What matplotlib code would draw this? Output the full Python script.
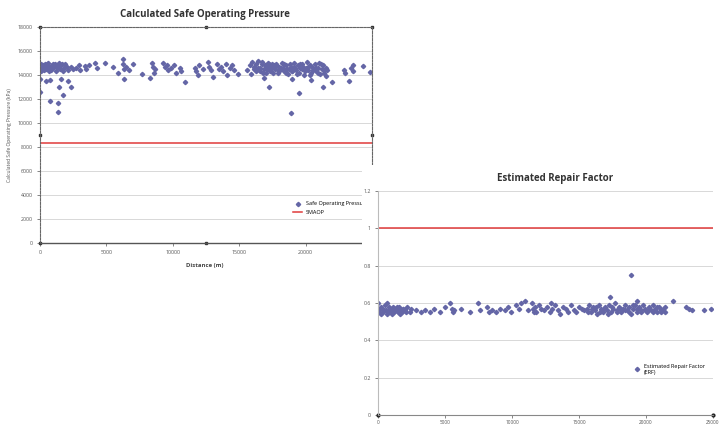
import matplotlib.pyplot as plt

plt.rcParams['font.family'] = ['Open Sans', 'DejaVu Sans']

# ---- data: calculated safe operating pressure (kPa) vs distance (m)
sop_dist_a = [0, 100, 150, 250, 300, 400, 500, 600, 700, 800, 900, 1000]
sop_kpa_a = [14700, 14900, 14500, 14800, 14400, 14900, 14600, 15000, 14700, 14400, 14800, 14600]
sop_dist_b = [1100, 1200, 1300, 1400, 1500, 1600, 1700, 1800, 1900, 2100, 2300, 2500]
sop_kpa_b = [14900, 14300, 14700, 15000, 14500, 14800, 14300, 14600, 14900, 14400, 14700, 14500]
sop_dist_c = [50, 200, 350, 450, 550, 650, 850, 950, 1250, 1450, 1650, 2000]
sop_kpa_c = [14300, 14600, 14700, 14500, 14900, 14300, 14600, 14950, 14800, 14600, 14900, 14700]
sop_dist_d = [0, 0, 450, 750, 750, 1350, 1350, 1400, 1580, 1730, 2100, 2300]
sop_kpa_d = [13700, 12600, 13500, 13600, 11800, 11650, 10900, 13000, 13650, 12350, 13500, 13000]
sop_dist_e = [2700, 2900, 3000, 3380, 3500, 3700, 4130, 4300, 4890, 5490, 5870, 6240,
              6280, 6300, 6320, 6500, 6700, 7000, 7670, 8270, 8420, 8500, 8570, 8650]
sop_kpa_e = [14600, 14800, 14400, 14750, 14500, 14800, 15000, 14600, 15000, 14650, 14150, 15300,
             14900, 14500, 13650, 14700, 14400, 14900, 14100, 13750, 15000, 14700, 14200, 14500]
sop_dist_f = [9250, 9400, 9550, 9650, 9900, 10080, 10230, 10530, 10650, 10900, 11650, 11750,
              11900, 12000, 12300, 12630, 12700, 12850, 13000, 13300, 13450, 13600, 13750, 14000,
              14060, 14300, 14450, 14600, 14900]
sop_kpa_f = [15000, 14700, 14850, 14400, 14600, 14850, 14200, 14600, 14350, 13400, 14600, 14300,
             14000, 14800, 14500, 15100, 14700, 14400, 13850, 14900, 14500, 14700, 14300, 14900,
             14000, 14600, 14800, 14400, 14100]
sop_dist_g = [15570, 15800, 16000, 16150, 16300, 16450, 16550, 16700, 16800, 16900, 17000, 17100,
              17200, 17300, 17400, 17500, 15900, 16100, 16250, 16400, 16600, 16750, 16850, 16950,
              17050, 17150, 17250, 17350, 17450, 17550, 17650, 17220]
sop_kpa_g = [14400, 14850, 15100, 14700, 14300, 15200, 14600, 14900, 14200, 13750, 14800, 14500,
             15000, 14300, 14700, 14900, 14100, 14500, 14900, 14600, 14300, 15100, 14500, 14800,
             14200, 14600, 14900, 14400, 14600, 14200, 14800, 13000]
sop_dist_h = [17700, 17800, 17900, 18000, 18100, 18200, 18300, 18400, 18500, 18600, 18700, 18800,
              18900, 19000, 19100, 19200, 19300, 19400, 19500, 19600, 19700, 19800, 19900, 20000,
              20100, 20200, 20300, 20400, 20500, 20600, 20700, 20800, 20900, 21000, 21100, 21200,
              21300, 21400, 21500, 21600]
sop_kpa_h = [14500, 14900, 14200, 14700, 14400, 15000, 14600, 14300, 14800, 14500, 14100, 14900,
             14700, 14300, 15000, 14600, 14400, 14800, 14200, 14900, 14500, 14700, 14000, 14600,
             15100, 14400, 14800, 14200, 14700, 14500, 14900, 14300, 14600, 15000, 14100, 14500,
             14800, 14200, 14600, 14400]
sop_dist_i = [17750, 17950, 18150, 18350, 18550, 18750, 18950, 19150, 19350, 19550, 19750, 19950,
              20150, 20350, 20550, 20750, 20950, 21150, 21350, 21550]
sop_kpa_i = [14800, 14400, 14600, 14900, 14200, 14500, 14300, 14700, 14100, 14600, 14900, 14300,
             14700, 14000, 14400, 14600, 14200, 14900, 14400, 13900]
sop_dist_j = [18880, 19480, 21300, 21960, 22900, 23000, 23240, 23400, 23540, 23600, 24290, 24820, 20400, 19000]
sop_kpa_j = [10830, 12500, 13000, 13420, 14400, 14200, 13500, 14600, 14830, 14300, 14750, 14250, 13600, 13700]
smaop = 8300

# ---- data: estimated repair factor vs distance (m)
erf_dist_a = [0, 0, 100, 200, 300, 400, 500, 600, 700, 800, 900, 1000,
              1100, 1200, 1300, 1400, 1500, 1600, 1700, 1800, 1900, 2000, 2200, 2400]
erf_a = [0.60, 0.56, 0.55, 0.58, 0.57, 0.55, 0.59, 0.56, 0.60, 0.55, 0.57, 0.56,
         0.58, 0.55, 0.57, 0.56, 0.55, 0.58, 0.56, 0.55, 0.57, 0.56, 0.58, 0.55]
erf_dist_b = [50, 250, 450, 650, 850, 1050, 1250, 1450, 1650, 1850, 2100, 2500]
erf_b = [0.57, 0.54, 0.56, 0.54, 0.58, 0.54, 0.56, 0.58, 0.54, 0.57, 0.55, 0.57]
erf_dist_c = [2800, 3200, 3500, 3900, 4200, 4600, 5000, 5400, 5500, 5600, 5700, 6200,
              6900, 7500, 7600, 8100, 8300, 8500, 8800, 9100, 9500, 9700, 9900, 10300,
              10500, 10700, 11000, 11200]
erf_c = [0.56, 0.55, 0.56, 0.55, 0.57, 0.55, 0.58, 0.60, 0.57, 0.55, 0.56, 0.57,
         0.55, 0.60, 0.56, 0.58, 0.55, 0.56, 0.55, 0.57, 0.56, 0.58, 0.55, 0.59,
         0.57, 0.60, 0.61, 0.56]
erf_dist_d = [11500, 11600, 11700, 11800, 12000, 12200, 12400, 12600, 12800, 13000, 13200, 13400,
              13600, 13800, 14000, 14200, 14400, 14600, 14800, 15000, 15200, 15400, 11650, 12900]
erf_d = [0.60, 0.57, 0.58, 0.55, 0.59, 0.57, 0.56, 0.58, 0.55, 0.57, 0.59, 0.56,
         0.54, 0.58, 0.57, 0.55, 0.59, 0.56, 0.55, 0.58, 0.57, 0.56, 0.55, 0.60]
erf_dist_e = [15600, 15750, 15900, 16050, 16200, 16350, 16500, 16650, 16800, 16950, 17100, 17250,
              17400, 17550, 17700, 17850, 18000, 18150, 18300, 18450, 18600, 18750, 18900, 19050,
              19200, 19350, 19500, 19650, 19800, 19950, 20100, 20250, 20400, 20550, 20700, 20850,
              21000, 21150, 21300, 21450]
erf_e = [0.57, 0.59, 0.55, 0.58, 0.56, 0.54, 0.59, 0.57, 0.55, 0.58, 0.56, 0.59,
         0.55, 0.57, 0.60, 0.56, 0.58, 0.55, 0.57, 0.59, 0.56, 0.58, 0.54, 0.57,
         0.59, 0.55, 0.58, 0.56, 0.59, 0.57, 0.55, 0.58, 0.56, 0.59, 0.57, 0.55,
         0.58, 0.56, 0.57, 0.55]
erf_dist_f = [15700, 16000, 16300, 16600, 16900, 17200, 17500, 17800, 18100, 18400, 18700, 19000,
              19300, 19600, 19900, 20200, 20500, 20800, 21100, 21400]
erf_f = [0.55, 0.57, 0.58, 0.55, 0.57, 0.54, 0.58, 0.55, 0.57, 0.56, 0.55, 0.59,
         0.57, 0.55, 0.56, 0.57, 0.55, 0.58, 0.55, 0.58]
erf_dist_g = [17290, 18860, 19310, 22000, 23000, 23200, 23400, 24330, 24850]
erf_g = [0.63, 0.75, 0.61, 0.61, 0.58, 0.57, 0.56, 0.56, 0.57]
erf_limit = 1.0

sop_dist = (sop_dist_a + sop_dist_b + sop_dist_c + sop_dist_d + sop_dist_e
            + sop_dist_f + sop_dist_g + sop_dist_h + sop_dist_i + sop_dist_j)
sop_kpa = (sop_kpa_a + sop_kpa_b + sop_kpa_c + sop_kpa_d + sop_kpa_e
           + sop_kpa_f + sop_kpa_g + sop_kpa_h + sop_kpa_i + sop_kpa_j)
erf_dist = erf_dist_a + erf_dist_b + erf_dist_c + erf_dist_d + erf_dist_e + erf_dist_f + erf_dist_g
erf = erf_a + erf_b + erf_c + erf_d + erf_e + erf_f + erf_g

pt_col = '#6466a6'
red = '#e03a3a'
grid_col = '#d2d2d2'
W, H = 725, 425

fig = plt.figure(figsize=(7.25, 4.25), dpi=100)

# left chart
ax1 = fig.add_axes([40 / W, 1 - 243 / H, 332 / W, 216 / H])
ax1.plot(sop_dist, sop_kpa, 'D', ms=2.2, color=pt_col, label='Safe Operating Pressure')
ax1.axhline(smaop, color=red, lw=1.1, label='SMAOP')
ax1.set_xlim(0, 25000)
ax1.set_ylim(0, 18000)
ax1.set_xticks([0, 5000, 10000, 15000, 20000, 25000])
ax1.set_yticks(range(0, 18001, 2000))
ax1.yaxis.grid(True, color=grid_col, lw=0.6)
ax1.set_axisbelow(True)
ax1.tick_params(labelsize=3.8, colors='#555555', length=2, width=0.5, pad=3)
for s in ['left', 'top', 'right']:
    ax1.spines[s].set_linestyle((0, (2, 1.2)))
    ax1.spines[s].set_color('#666666')
    ax1.spines[s].set_linewidth(0.8)
ax1.spines['bottom'].set_color('#555555')
ax1.spines['bottom'].set_linewidth(1.0)
# selection handles of the plot area
ax1.plot([0, 0.5, 1, 0, 1, 0, 0.5], [1, 1, 1, 0.5, 0.5, 0, 0], 's', ms=2, color='#333333',
         transform=ax1.transAxes, clip_on=False)
ax1.legend(loc='upper left', bbox_to_anchor=(0.755, 0.205), fontsize=4, frameon=False,
           handlelength=1.6, handletextpad=0.6, labelspacing=0.6, borderpad=0)
fig.text(205 / W, 1 - 14 / H, 'Calculated Safe Operating Pressure', ha='center', va='center',
         fontsize=7, weight='bold', color='#333333')
fig.text(205 / W, 1 - 266 / H, 'Distance (m)', ha='center', va='center', fontsize=4.3,
         weight='bold', color='#444444')
fig.text(10 / W, 1 - 135 / H, 'Calculated Safe Operating Pressure (kPa)', ha='center', va='center',
         rotation=90, fontsize=3.6, color='#555555')

# white panel of the second chart, covering part of the first
bg = fig.add_axes([362 / W, 0, 363 / W, 1 - 165 / H])
bg.set_facecolor('white')
bg.set_xticks([])
bg.set_yticks([])
for s in bg.spines.values():
    s.set_visible(False)
bg.set_zorder(2)

# right chart
ax2 = fig.add_axes([378 / W, 1 - 415 / H, 335 / W, 224 / H])
ax2.set_zorder(3)
ax2.set_facecolor('none')
ax2.plot(erf_dist, erf, 'D', ms=2.2, color=pt_col, label='Estimated Repair Factor\n(ERF)')
ax2.axhline(erf_limit, color=red, lw=1.1)
ax2.set_xlim(0, 25000)
ax2.set_ylim(0, 1.2)
ax2.set_xticks([0, 5000, 10000, 15000, 20000, 25000])
ax2.set_yticks([0, 0.2, 0.4, 0.6, 0.8, 1.0, 1.2])
ax2.set_yticklabels(['0', '0.2', '0.4', '0.6', '0.8', '1', '1.2'])
ax2.yaxis.grid(True, color=grid_col, lw=0.6)
ax2.set_axisbelow(True)
ax2.tick_params(labelsize=3.8, colors='#555555', length=2, width=0.5, pad=3)
ax2.tick_params(axis='x', labelsize=3.4, pad=1.5)
ax2.spines['top'].set_visible(False)
ax2.spines['right'].set_visible(False)
ax2.spines['left'].set_color('#bbbbbb')
ax2.spines['bottom'].set_color('#888888')
ax2.plot([0, 1], [0, 0], 'o', ms=2, color='#222222', transform=ax2.transAxes, clip_on=False)
ax2.legend(loc='upper left', bbox_to_anchor=(0.755, 0.24), fontsize=4, frameon=False,
           handlelength=1.2, handletextpad=0.6, borderpad=0)
fig.text(555 / W, 1 - 179 / H, 'Estimated Repair Factor', ha='center', va='center',
         fontsize=7, weight='bold', color='#333333')

fig.savefig('out.png', dpi=100, facecolor='white')
